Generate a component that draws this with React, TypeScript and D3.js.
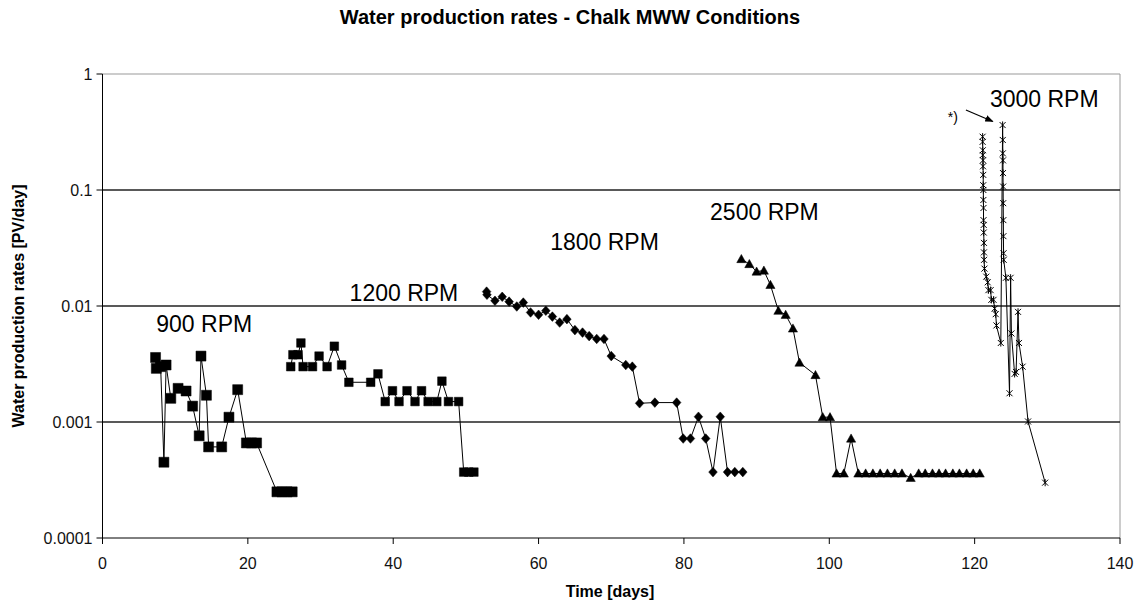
import React from 'react';
import * as d3 from 'd3';

// ---- Data ----
const days900 = [7.3, 7.4, 8.0, 8.45, 8.75, 9.4, 10.4, 11.5, 12.4, 13.3, 13.55, 14.3, 14.6, 16.4, 17.4, 18.6, 19.8, 20.5, 21.2, 24.0, 24.7, 25.4, 26.1];
const values900 = [0.0036, 0.0029, 0.0030, 0.00045, 0.0031, 0.0016, 0.00195, 0.00185, 0.00137, 0.00076, 0.0037, 0.0017, 0.00061, 0.00061, 0.0011, 0.0019, 0.00066, 0.00066, 0.00066, 0.00025, 0.00025, 0.00025, 0.00025];

const days1200 = [25.9, 26.2, 26.9, 27.3, 27.6, 28.9, 29.8, 30.9, 31.9, 32.9, 33.9, 36.9, 37.9, 38.9, 39.9, 40.8, 41.9, 43.0, 43.9, 44.8, 46.0, 46.7, 47.6, 49.0, 49.7, 50.4, 51.1];
const values1200 = [0.0030, 0.0038, 0.0038, 0.0048, 0.0030, 0.0030, 0.0037, 0.0030, 0.0045, 0.0031, 0.0022, 0.0022, 0.0026, 0.0015, 0.00186, 0.0015, 0.00186, 0.0015, 0.00186, 0.0015, 0.0015, 0.00225, 0.0015, 0.0015, 0.00037, 0.00037, 0.00037];

const days1800 = [52.85, 52.9, 54.0, 55.0, 55.95, 57.0, 57.9, 58.9, 60.0, 61.0, 61.9, 62.9, 63.9, 65.0, 66.05, 66.96, 68.0, 69.0, 70.0, 72.0, 72.9, 73.9, 76.0, 79.0, 79.9, 80.9, 82.0, 83.0, 84.0, 85.0, 86.0, 87.0, 88.1];
const values1800 = [0.0133, 0.0125, 0.0111, 0.0120, 0.0109, 0.0099, 0.0107, 0.0088, 0.0084, 0.0091, 0.0081, 0.0072, 0.0077, 0.0062, 0.0059, 0.0055, 0.0052, 0.0052, 0.0037, 0.0031, 0.0030, 0.00145, 0.00147, 0.00147, 0.00072, 0.00072, 0.00111, 0.00072, 0.00037, 0.00111, 0.00037, 0.00037, 0.00037];

const days2500 = [87.9, 89.0, 90.0, 91.0, 91.9, 93.0, 94.0, 95.0, 95.9, 98.1, 99.1, 100.1, 101.0, 102.0, 103.0, 104, 105, 106, 107, 108, 109, 110, 111.2, 112.3, 113.2, 114.2, 115.1, 116.0, 117.0, 117.9, 118.9, 119.8, 120.7];
const values2500 = [0.0254, 0.0230, 0.0198, 0.0202, 0.0152, 0.0091, 0.0084, 0.0064, 0.00325, 0.00254, 0.0011, 0.0011, 0.00036, 0.00036, 0.00072, 0.00036, 0.00036, 0.00036, 0.00036, 0.00036, 0.00036, 0.00036, 0.00033, 0.00036, 0.00036, 0.00036, 0.00036, 0.00036, 0.00036, 0.00036, 0.00036, 0.00036, 0.00036];

const days3000 = [121.1, 121.1, 121.12, 121.12, 121.15, 121.15, 121.18, 121.18, 121.2, 121.2, 121.22, 121.22, 121.25, 121.25, 121.28, 121.28, 121.3, 121.35,
  121.6, 121.8, 121.9, 122.2, 122.3, 122.6, 122.75, 122.9, 123.0, 123.6,
  123.85, 123.87, 123.88, 123.9, 123.9, 123.92, 123.93, 123.95, 123.96, 123.98, 124.0,
  124.3, 124.8, 124.95, 125.06, 125.5, 125.7, 125.97, 126.1, 126.6, 127.35, 129.7];
const values3000 = [0.288, 0.26, 0.22, 0.2, 0.18, 0.16, 0.135, 0.11, 0.1, 0.082, 0.07, 0.055, 0.05, 0.043, 0.035, 0.029, 0.025, 0.021,
  0.0179, 0.016, 0.0137, 0.0137, 0.0113, 0.0113, 0.0095, 0.0085, 0.0068, 0.0048,
  0.363, 0.27, 0.207, 0.18, 0.14, 0.107, 0.077, 0.055, 0.04, 0.0285, 0.025,
  0.0175, 0.00177, 0.0175, 0.0058, 0.0026, 0.0027, 0.0089, 0.0048, 0.0030, 0.00101, 0.0003];

const xTicks = [0, 20, 40, 60, 80, 100, 120, 140];
const yTicks = [1, 0.1, 0.01, 0.001, 0.0001];
const yTickLabels = ['1', '0.1', '0.01', '0.001', '0.0001'];
const gridValues = [0.1, 0.01, 0.001];

const rpmLabels = ['900 RPM', '1200 RPM', '1800 RPM', '2500 RPM', '3000 RPM'];
const rpmLabelDays = [7.4, 34.0, 61.6, 83.6, 122.1];
const rpmLabelValues = [0.006, 0.011, 0.0304, 0.055, 0.52];

// ---- Layout ----
const W = 1143;
const H = 607;
const L = 102.5, R = 1120, T = 74, B = 538;
const FONT = '"Liberation Sans", Arial, Helvetica, sans-serif';

type Kind = 'bigsquare' | 'square' | 'diamond' | 'triangle' | 'star';

function markerPath(kind: Kind): string {
  switch (kind) {
    case 'bigsquare': return 'M-5,-5H5V5H-5Z';
    case 'square': return 'M-4.3,-4.3H4.3V4.3H-4.3Z';
    case 'diamond': return 'M0,-4.8L4.3,0L0,4.8L-4.3,0Z';
    case 'triangle': return 'M0,-4.6L4.6,3.6L-4.6,3.6Z';
    case 'star': return 'M-3,-3L3,3M-3,3L3,-3M0,-3.6V3.6';
  }
}

const series: { days: number[]; values: number[]; kind: Kind }[] = [
  { days: days900, values: values900, kind: 'bigsquare' },
  { days: days1200, values: values1200, kind: 'square' },
  { days: days1800, values: values1800, kind: 'diamond' },
  { days: days2500, values: values2500, kind: 'triangle' },
  { days: days3000, values: values3000, kind: 'star' },
];

export default function App() {
  const x = d3.scaleLinear().domain([0, 140]).range([L, R]);
  const y = d3.scaleLog().domain([1e-4, 1]).range([B, T]);
  const line = d3.line<[number, number]>().x(d => x(d[0])).y(d => y(d[1]));

  return (
    <svg width={W} height={H} style={{ position: 'absolute', left: 0, top: 0, background: '#fff' }} fontFamily={FONT}>
      <rect x={0} y={0} width={W} height={H} fill="#fff" />
      {/* title */}
      <text x={570} y={24} textAnchor="middle" fontSize={20} fontWeight="bold">Water production rates - Chalk MWW Conditions</text>

      {/* plot frame (top/right) */}
      <line x1={L} x2={R} y1={T} y2={T} stroke="#999" strokeWidth={1} />
      <line x1={R} x2={R} y1={T} y2={B} stroke="#999" strokeWidth={1} />

      {/* gridlines */}
      {gridValues.map(v => (
        <line key={v} x1={L} x2={R} y1={y(v)} y2={y(v)} stroke="#222" strokeWidth={1.4} />
      ))}

      {/* axes */}
      <line x1={L} x2={L} y1={T} y2={B} stroke="#000" strokeWidth={1} />
      <line x1={L} x2={R} y1={B} y2={B} stroke="#000" strokeWidth={1} />
      {yTicks.map((v, i) => (
        <g key={v}>
          <line x1={L - 6} x2={L} y1={y(v)} y2={y(v)} stroke="#000" />
          <text x={L - 10} y={y(v) + 5.5} textAnchor="end" fontSize={16} fill="#111">{yTickLabels[i]}</text>
        </g>
      ))}
      {xTicks.map(v => (
        <g key={v}>
          <line x1={x(v)} x2={x(v)} y1={B} y2={B + 6} stroke="#000" />
          <text x={x(v)} y={569} textAnchor="middle" fontSize={16} fill="#111">{v}</text>
        </g>
      ))}
      <text x={610} y={597} textAnchor="middle" fontSize={16} fontWeight="bold">Time [days]</text>
      <text transform={`translate(24,${(T + B) / 2}) rotate(-90)`} textAnchor="middle" fontSize={16} fontWeight="bold">Water production rates [PV/day]</text>

      {/* series */}
      {series.map((s, si) => {
        const pts = s.days.map((d, i) => [d, s.values[i]] as [number, number]);
        const mp = markerPath(s.kind);
        return (
          <g key={si}>
            <path d={line(pts) || ''} fill="none" stroke="#000" strokeWidth={1} />
            {pts.map((p, i) => (
              <path key={i} d={mp} transform={`translate(${x(p[0])},${y(p[1])})`}
                fill={s.kind === 'star' ? 'none' : '#000'} stroke="#000" strokeWidth={s.kind === 'star' ? 1 : 0.5} />
            ))}
          </g>
        );
      })}

      {/* RPM labels */}
      {rpmLabels.map((t, i) => (
        <text key={t} x={x(rpmLabelDays[i])} y={y(rpmLabelValues[i])} fontSize={23} fill="#000">{t}</text>
      ))}

      {/* annotation */}
      <defs>
        <marker id="ah" viewBox="0 0 10 10" refX={9} refY={5} markerWidth={7} markerHeight={7} orient="auto">
          <path d="M0,1L10,5L0,9Z" fill="#000" />
        </marker>
      </defs>
      <text x={x(116.3)} y={y(0.386)} fontSize={14}>*)</text>
      <line x1={x(118.8)} y1={y(0.49)} x2={x(122.5)} y2={y(0.39)} stroke="#000" strokeWidth={1.2} markerEnd="url(#ah)" />
    </svg>
  );
}
